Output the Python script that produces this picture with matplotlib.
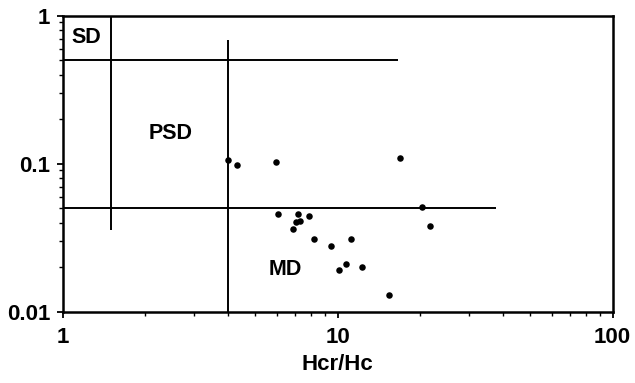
import matplotlib
matplotlib.use("Agg")
import matplotlib.pyplot as plt
from matplotlib.ticker import LogLocator, NullFormatter, FixedLocator, FixedFormatter

plt.rcParams['font.family'] = ['Liberation Sans', 'DejaVu Sans']

# Data: Hcr/Hc vs Mr/Ms
hcr_hc = [4.0, 4.32, 5.95, 16.9, 20.2, 21.6, 6.08, 7.19, 7.85, 7.31, 7.03, 6.90,
          8.18, 9.43, 11.2, 10.7, 10.1, 12.3, 15.4]
mr_ms = [0.106, 0.0985, 0.103, 0.110, 0.051, 0.0379, 0.0455, 0.0459, 0.0443, 0.041,
         0.0402, 0.036, 0.0311, 0.0279, 0.0311, 0.0211, 0.0191, 0.020, 0.013]

# Domain boundary lines (x0, x1, y0, y1)
boundaries = [
    (1.5, 1.5, 0.0356, 1.0),
    (1.0, 16.6, 0.5, 0.5),
    (4.0, 4.0, 0.01, 0.68),
    (1.0, 37.7, 0.05, 0.05),
]
regions = [("SD", 1.215, 0.707), ("PSD", 2.46, 0.161), ("MD", 6.43, 0.0194)]

xticks = [1, 10, 100]
xticklabels = ["1", "10", "100"]
yticks = [0.01, 0.1, 1]
yticklabels = ["0.01", "0.1", "1"]

fig = plt.figure(figsize=(6.35, 3.83), dpi=100)
ax = fig.add_axes([0.0987, 0.1862, 0.8661, 0.7728])
ax.set_xscale('log')
ax.set_yscale('log')
ax.set_xlim(1, 100)
ax.set_ylim(0.01, 1)

for x0, x1, y0, y1 in boundaries:
    ax.plot([x0, x1], [y0, y1], color='black', lw=1.4, solid_capstyle='butt')

ax.scatter(hcr_hc, mr_ms, s=22, color='black', zorder=3, linewidths=0)

for txt, x, y in regions:
    ax.text(x, y, txt, fontsize=15.5, fontweight='bold', ha='center', va='center')

ax.xaxis.set_major_locator(FixedLocator(xticks))
ax.xaxis.set_major_formatter(FixedFormatter(xticklabels))
ax.yaxis.set_major_locator(FixedLocator(yticks))
ax.yaxis.set_major_formatter(FixedFormatter(yticklabels))
ax.xaxis.set_minor_locator(LogLocator(base=10, subs=range(2, 10)))
ax.yaxis.set_minor_locator(LogLocator(base=10, subs=range(2, 10)))
ax.xaxis.set_minor_formatter(NullFormatter())
ax.yaxis.set_minor_formatter(NullFormatter())

ax.tick_params(axis='both', which='major', direction='out', length=4, width=1.3,
               labelsize=16)
ax.tick_params(axis='both', which='minor', direction='out', length=3, width=1.0)
ax.tick_params(axis='x', which='major', pad=7)
ax.tick_params(axis='y', which='major', pad=5)
for lab in ax.get_xticklabels() + ax.get_yticklabels():
    lab.set_fontweight('bold')

for sp in ax.spines.values():
    sp.set_linewidth(1.8)

ax.set_xlabel("Hcr/Hc", fontsize=16, fontweight='bold', labelpad=4)

fig.savefig("out.png", dpi=100)
